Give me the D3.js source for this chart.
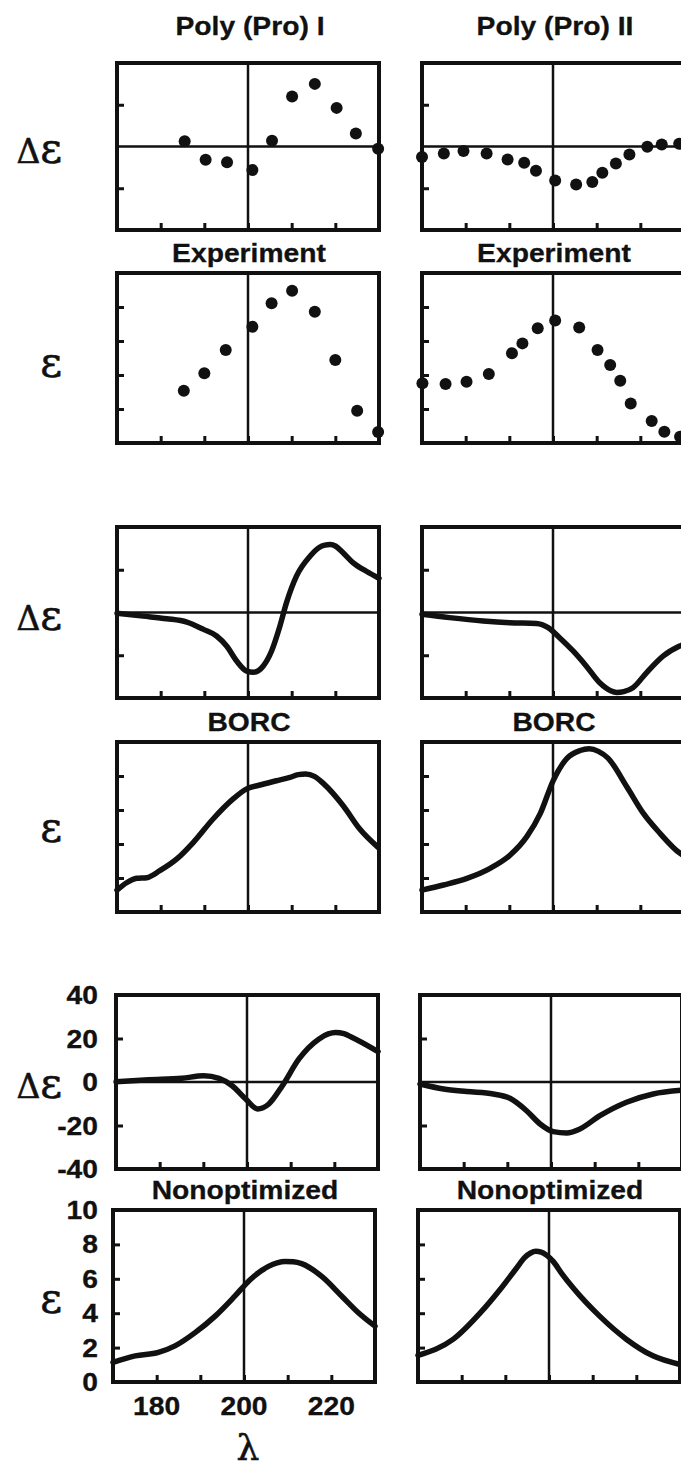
<!DOCTYPE html>
<html>
<head>
<meta charset="utf-8">
<script src="https://cdn.jsdelivr.net/npm/d3@7"></script>
<style>
body{margin:0;background:#fff;}
svg{display:block;background:#fff;}
</style>
</head>
<body>
<svg id="chart" width="681" height="1472"></svg>
<script>
// axes
var lambdaDomain = [170, 230];
var lambdaTicks = [180, 190, 200, 210, 220];
var lambdaLabels = [180, 200, 220];
var cdDomain = [-40, 40];
var cdTicks = [-20, 20];
var cdLabels = [40, 20, 0, -20, -40];
var epsDomain = [0, 10];
var epsTicks = [2, 4, 6, 8];
var epsLabels = [10, 8, 6, 4, 2, 0];

var columnTitles = ['Poly (Pro) I', 'Poly (Pro) II'];
var groupTitles = ['Experiment', 'BORC', 'Nonoptimized'];

// Experiment (points)
var expCdLambdaI = [185.5, 190.3, 195.2, 201, 205.5, 210.1, 215.3, 220.3, 224.7, 229.8];
var expCdI = [2.5, -6.4, -7.5, -11.3, 2.7, 24, 30, 18.5, 6.2, -1.1];
var expCdLambdaII = [170, 175, 179.5, 184.8, 189.6, 193.4, 196.1, 200.5, 205.3, 209, 211.3, 214.4, 217.5, 221.6, 224.9, 228.9];
var expCdII = [-5, -3.3, -2.2, -3.3, -6.2, -7.8, -11.6, -16.3, -18.2, -17, -12.6, -8.1, -3.8, -0.1, 1, 1.3];
var expEpsLambdaI = [185.3, 190, 194.9, 201, 205.4, 210.1, 215.3, 220, 225, 229.8];
var expEpsI = [3.08, 4.1, 5.47, 6.84, 8.22, 8.96, 7.72, 4.88, 1.9, 0.65];
var expEpsLambdaII = [170.1, 175.4, 180.2, 185.3, 190.6, 193, 196.5, 200.5, 206, 210.2, 213.1, 215.4, 217.8, 222.6, 225.5, 229.1];
var expEpsII = [3.51, 3.47, 3.6, 4.06, 5.28, 5.86, 6.75, 7.2, 6.8, 5.47, 4.59, 3.66, 2.33, 1.3, 0.66, 0.37];

// BORC (curves)
var borcCdLambdaI = [170, 176, 181.4, 186, 189.8, 192.8, 195.1, 197.4, 199.7, 201.3, 203.5, 205.4, 207.3, 208.8, 211.1, 214.2, 216.3, 217.6, 218.8, 220.1, 221.6, 224.1, 227.1, 230];
var borcCdI = [-0.4, -1.7, -2.9, -4.5, -7.9, -11, -15.7, -22.7, -27.4, -27.9, -25, -18, -6.4, 4.5, 17, 26.3, 30.4, 31.5, 31.8, 31.0, 28.3, 23.2, 19.3, 16];
var borcCdLambdaII = [170, 176.3, 184, 190.1, 196.2, 198.9, 201.5, 204.6, 207.6, 210.7, 213.2, 214.6, 216.2, 218.3, 221.4, 225.2, 229, 230];
var borcCdII = [-0.8, -2.4, -4, -4.8, -5.1, -7.1, -11.8, -18, -25, -32.9, -36.6, -37.4, -37, -35.2, -28.2, -20.4, -15.7, -14.8];
var borcEpsLambdaI = [170, 172.2, 174.5, 176.8, 179.8, 183.7, 187.5, 192, 196.6, 199.7, 202.7, 206.5, 209.6, 211.5, 213.2, 215.2, 217.3, 221.8, 225.6, 229.8];
var borcEpsI = [1.29, 1.72, 1.98, 2.02, 2.43, 3.12, 4.1, 5.47, 6.65, 7.24, 7.47, 7.72, 7.92, 8.08, 8.12, 7.98, 7.55, 6.25, 4.88, 3.8];
var borcEpsLambdaII = [170, 174.9, 180.3, 185.6, 190.2, 194, 197.1, 200.1, 203.2, 206.2, 208.3, 210.4, 212.6, 216.9, 220.7, 224.5, 229.1, 230];
var borcEpsII = [1.29, 1.59, 1.98, 2.57, 3.35, 4.43, 5.8, 7.76, 9.04, 9.5, 9.6, 9.45, 9.05, 7.37, 5.8, 4.63, 3.45, 3.3];

// Nonoptimized (curves)
var nonCdLambdaI = [170, 177.5, 185.1, 190.1, 193.6, 196.6, 199.7, 202.4, 205, 208.1, 211.9, 216.5, 218.6, 220.3, 222.2, 224.1, 230];
var nonCdI = [0.1, 1, 1.7, 2.9, 1.7, -1.7, -7.8, -12.4, -10.1, -1.7, 10.6, 19.8, 22.1, 22.8, 22.2, 20.5, 14];
var nonCdLambdaII = [170, 175.4, 180.7, 186.8, 190.6, 194.4, 197.5, 200.5, 203.6, 206.6, 211.2, 217.3, 223.4, 230];
var nonCdII = [-0.9, -3.2, -4.4, -5.5, -7.5, -13.2, -19.3, -22.8, -23.4, -21.6, -15.5, -9.3, -5.5, -3.8];
var nonEpsLambdaI = [170, 175.1, 180.4, 184.2, 188.8, 193.4, 197.9, 201.4, 205.6, 207.6, 209.4, 211.3, 213.2, 217.8, 222.4, 226.2, 230];
var nonEpsI = [1.14, 1.52, 1.72, 2.1, 2.87, 3.83, 4.99, 5.95, 6.72, 6.93, 7.01, 6.99, 6.88, 6.14, 4.99, 4.03, 3.25];
var nonEpsLambdaII = [170, 178.1, 184.3, 188.8, 192.5, 194.5, 195.8, 197, 198.2, 199.5, 201, 202.8, 205.6, 211.6, 217.7, 223.8, 230];
var nonEpsII = [1.55, 2.49, 4.03, 5.38, 6.6, 7.25, 7.5, 7.6, 7.55, 7.36, 7.0, 6.35, 5.45, 3.83, 2.49, 1.52, 1.02];

// layout (pixels)
var rowTop = [63, 273, 527, 742, 995, 1210];
var rowBottom = [230, 443, 698, 912, 1169, 1382];
var colLeft = [[117, 422], [117, 422], [117, 422], [117, 422], [116, 420], [113, 418]];
var panelW = 262;
var symbolBase = [163, 377, 630, 842, 1098, 1313];
var SX = 1.13;
var ink = '#111';

function pairs(xs, ys){
  return xs.map(function(x, i){ return [x, ys[i]]; });
}

var rows = [
  {kind:'cd', dots:true, series:[pairs(expCdLambdaI, expCdI), pairs(expCdLambdaII, expCdII)]},
  {kind:'eps', dots:true, series:[pairs(expEpsLambdaI, expEpsI), pairs(expEpsLambdaII, expEpsII)]},
  {kind:'cd', dots:false, series:[pairs(borcCdLambdaI, borcCdI), pairs(borcCdLambdaII, borcCdII)]},
  {kind:'eps', dots:false, series:[pairs(borcEpsLambdaI, borcEpsI), pairs(borcEpsLambdaII, borcEpsII)]},
  {kind:'cd', dots:false, series:[pairs(nonCdLambdaI, nonCdI), pairs(nonCdLambdaII, nonCdII)]},
  {kind:'eps', dots:false, series:[pairs(nonEpsLambdaI, nonEpsI), pairs(nonEpsLambdaII, nonEpsII)]}
];

var svg = d3.select('#chart');
svg.append('rect').attr('width', 681).attr('height', 1472).attr('fill', '#fff');

function sansText(sel, x, y, str, anchor){
  return sel.append('text')
    .attr('transform', 'translate(' + x + ',' + y + ') scale(' + SX + ',1)')
    .attr('text-anchor', anchor || 'middle')
    .attr('font-family', 'Liberation Sans, Arial, Helvetica, sans-serif')
    .attr('font-weight', 'bold')
    .attr('font-size', 25)
    .attr('fill', ink)
    .attr('stroke', ink).attr('stroke-width', 0.3)
    .text(str);
}

var xScales = [];

rows.forEach(function(row, r){
  var last = (r >= rows.length - 2);
  row.series.forEach(function(data, c){
    var x0 = colLeft[r][c];
    var x = d3.scaleLinear().domain(lambdaDomain).range([x0, x0 + panelW]);
    var y = d3.scaleLinear()
      .domain(row.kind === 'cd' ? cdDomain : epsDomain)
      .range([rowBottom[r], rowTop[r]]);
    if(r === 0) xScales[c] = x;
    var g = svg.append('g').attr('class', 'panel r' + r + ' c' + c);

    // ticks, pointing inward
    g.append('g').attr('transform', 'translate(' + x0 + ',0)')
      .call(d3.axisLeft(y).tickValues(row.kind === 'cd' ? cdTicks : epsTicks).tickSizeInner(-7).tickSizeOuter(0).tickFormat(''))
      .call(function(a){ a.select('.domain').remove(); a.selectAll('line').attr('stroke', ink).attr('stroke-width', 3); });
    g.append('g').attr('transform', 'translate(0,' + rowBottom[r] + ')')
      .call(d3.axisBottom(x).tickValues(lambdaTicks).tickSizeInner(-7).tickSizeOuter(0).tickFormat(''))
      .call(function(a){ a.select('.domain').remove(); a.selectAll('line').attr('stroke', ink).attr('stroke-width', 3); });

    // reference lines
    g.append('line').attr('x1', x(200)).attr('x2', x(200))
      .attr('y1', rowTop[r]).attr('y2', rowBottom[r])
      .attr('stroke', ink).attr('stroke-width', 2.5);
    if(row.kind === 'cd'){
      g.append('line').attr('x1', x0).attr('x2', x0 + panelW)
        .attr('y1', y(0)).attr('y2', y(0))
        .attr('stroke', ink).attr('stroke-width', 2.5);
    }

    if(row.dots){
      g.selectAll('circle').data(data).enter().append('circle')
        .attr('cx', function(d){ return x(d[0]); })
        .attr('cy', function(d){ return y(d[1]); })
        .attr('r', 6).attr('fill', ink);
    } else {
      var line = d3.line()
        .x(function(d){ return x(d[0]); })
        .y(function(d){ return y(d[1]); })
        .curve(d3.curveMonotoneX);
      g.append('path').datum(data).attr('d', line)
        .attr('fill', 'none').attr('stroke', ink)
        .attr('stroke-width', 5.5).attr('stroke-linejoin', 'round').attr('stroke-linecap', 'round');
    }

    // frame
    g.append('rect').attr('x', x0).attr('y', rowTop[r])
      .attr('width', panelW).attr('height', rowBottom[r] - rowTop[r])
      .attr('fill', 'none').attr('stroke', ink).attr('stroke-width', 4);

    // tick labels only on the bottom-left pair
    if(last && c === 0){
      var labs = row.kind === 'cd' ? cdLabels : epsLabels;
      labs.forEach(function(v){
        sansText(g, 98, y(v) + 9, String(v), 'end');
      });
      if(r === rows.length - 1){
        lambdaLabels.forEach(function(v){
          sansText(g, x(v), rowBottom[r] + 33, String(v), 'middle');
        });
      }
    }
  });

  // left symbol label
  var sym = svg.append('text')
    .attr('x', 62).attr('y', symbolBase[r])
    .attr('text-anchor', 'end')
    .attr('font-family', 'DejaVu Serif, serif')
    .attr('fill', ink).attr('stroke', ink).attr('stroke-width', 0.6);
  if(row.kind === 'cd'){
    sym.append('tspan').attr('font-size', 33).text('Δ');
  }
  sym.append('tspan').attr('font-size', 42).text('ε');
});

// titles
columnTitles.forEach(function(t, c){
  sansText(svg, xScales[c](200) + 2, rowTop[0] - 28, t, 'middle');
});
groupTitles.forEach(function(t, i){
  var r = i * 2 + 1;
  for(var c = 0; c < 2; c++){
    var x0 = colLeft[r][c];
    var xm = x0 + (200 - lambdaDomain[0]) / (lambdaDomain[1] - lambdaDomain[0]) * panelW;
    sansText(svg, xm + 1, rowTop[r] - 11, t, 'middle');
  }
});

// lambda axis title
svg.append('text')
  .attr('x', 248).attr('y', 1460)
  .attr('text-anchor', 'middle')
  .attr('font-family', 'DejaVu Serif, serif')
  .attr('font-size', 36)
  .attr('fill', ink).attr('stroke', ink).attr('stroke-width', 0.6)
  .text('λ');
</script>
</body>
</html>
